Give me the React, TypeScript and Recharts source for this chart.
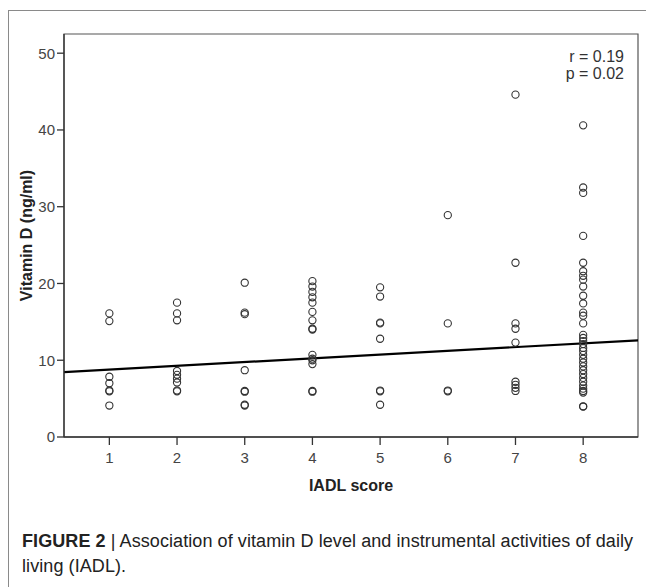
import React from 'react';
import {
  ScatterChart,
  Scatter,
  XAxis,
  YAxis,
  ReferenceArea,
  ReferenceLine,
} from 'recharts';

// IADL score categories and tick labels
const iadlTicks = [1, 2, 3, 4, 5, 6, 7, 8];
const vitDTicks = [0, 10, 20, 30, 40, 50];

// Vitamin D (ng/ml) values read per IADL score
const score1 = [16.1, 15.1, 7.85, 7.0, 6.05, 5.95, 4.1];
const score2 = [17.5, 16.1, 15.2, 8.6, 8.1, 7.6, 7.1, 6.05, 5.95];
const score3 = [20.1, 16.2, 16.0, 8.7, 6.0, 5.9, 4.2, 4.1];
const score4 = [20.3, 19.6, 18.9, 18.2, 17.5, 16.3, 15.2, 14.1, 14.0, 10.7, 10.2, 10.0, 9.5, 6.0, 5.9];
const score5 = [19.5, 18.3, 14.9, 14.8, 12.8, 6.05, 5.95, 4.2];
const score6 = [28.9, 14.8, 6.05, 5.95];
const score7 = [44.6, 22.7, 14.8, 14.1, 12.3, 7.2, 6.8, 6.4, 6.0];
const score8 = [
  40.6, 32.5, 31.8, 26.2, 22.7, 21.6, 21.0, 20.5, 19.6, 18.4, 17.4, 16.2, 15.8, 14.8,
  13.3, 12.9, 12.5, 12.1, 11.6, 11.2, 10.7, 10.2, 9.7, 9.2, 8.7, 8.2, 7.7, 7.2, 6.7,
  6.3, 6.0, 5.8, 4.0, 3.95,
];

// Linear fit line endpoints (x at axis limits)
const fitX = [0.33, 8.81];
const fitY = [8.46, 12.6];

const xDomain = [0.33, 8.81];
const yDomain = [0, 52.5];

const groups = [score1, score2, score3, score4, score5, score6, score7, score8];
const points = groups.flatMap((vals, i) => vals.map((v) => ({ x: iadlTicks[i], y: v })));

const axisFont = "'Liberation Sans', Arial, sans-serif";

const Ring = (props: any) => {
  const { cx, cy } = props;
  if (cx == null || cy == null) return null;
  return <circle cx={cx} cy={cy} r={3.6} fill="none" stroke="#333" strokeWidth={1.1} />;
};

export default function App() {
  return (
    <div style={{ position: 'relative', width: 646, height: 579, fontFamily: axisFont }}>
      <div
        style={{
          position: 'absolute',
          left: 0,
          top: 2,
          width: 646,
          height: 577,
          borderLeft: '1px solid #8a8a8a',
          borderTop: '1px solid #8a8a8a',
          boxSizing: 'border-box',
        }}
      />
      <div style={{ position: 'absolute', left: -8, top: -8 }}>
        <ScatterChart
          width={654}
          height={587}
          margin={{ top: 34, right: 16, bottom: 90, left: 0 }}
        >
          <XAxis
            type="number"
            dataKey="x"
            domain={xDomain}
            ticks={iadlTicks}
            allowDataOverflow
            height={60}
            tickSize={8}
            tickMargin={7}
            axisLine={{ stroke: '#333', strokeWidth: 1.3 }}
            tickLine={{ stroke: '#333', strokeWidth: 1.3 }}
            tick={{ fill: '#444', fontSize: 15, fontFamily: axisFont }}
            label={{
              value: 'IADL score',
              position: 'insideBottom',
              offset: 6,
              style: { fill: '#222', fontSize: 16, fontWeight: 'bold', fontFamily: axisFont },
            }}
          />
          <YAxis
            type="number"
            dataKey="y"
            domain={yDomain}
            ticks={vitDTicks}
            allowDataOverflow
            width={64}
            tickSize={7}
            tickMargin={2}
            axisLine={{ stroke: '#333', strokeWidth: 1.3 }}
            tickLine={{ stroke: '#333', strokeWidth: 1.3 }}
            tick={{ fill: '#444', fontSize: 15, fontFamily: axisFont }}
            label={{
              value: 'Vitamin D (ng/ml)',
              angle: -90,
              position: 'center',
              dx: -6,
              style: { fill: '#222', fontSize: 16, fontWeight: 'bold', fontFamily: axisFont, textAnchor: 'middle' },
            }}
          />
          <ReferenceArea
            x1={xDomain[0]}
            x2={xDomain[1]}
            y1={yDomain[0]}
            y2={yDomain[1]}
            fill="none"
            stroke="#555"
            strokeWidth={1.2}
            ifOverflow="visible"
          />
          <Scatter data={points} shape={Ring} isAnimationActive={false} />
          <ReferenceLine
            segment={[
              { x: fitX[0], y: fitY[0] },
              { x: fitX[1], y: fitY[1] },
            ]}
            stroke="#000"
            strokeWidth={2.2}
            ifOverflow="visible"
          />
        </ScatterChart>
      </div>
      <div
        style={{
          position: 'absolute',
          right: 30,
          top: 40,
          textAlign: 'right',
          fontSize: 16,
          lineHeight: '17px',
          color: '#333',
        }}
      >
        <div>r = 0.19</div>
        <div>p = 0.02</div>
      </div>
      <div
        style={{
          position: 'absolute',
          left: 14,
          top: 521,
          fontSize: 18,
          lineHeight: '25px',
          color: '#222',
          fontFamily: axisFont,
          whiteSpace: 'nowrap',
          letterSpacing: '0.08px',
        }}
      >
        <div>
          <b>FIGURE 2</b> | Association of vitamin D level and instrumental activities of daily
        </div>
        <div>living (IADL).</div>
      </div>
    </div>
  );
}
